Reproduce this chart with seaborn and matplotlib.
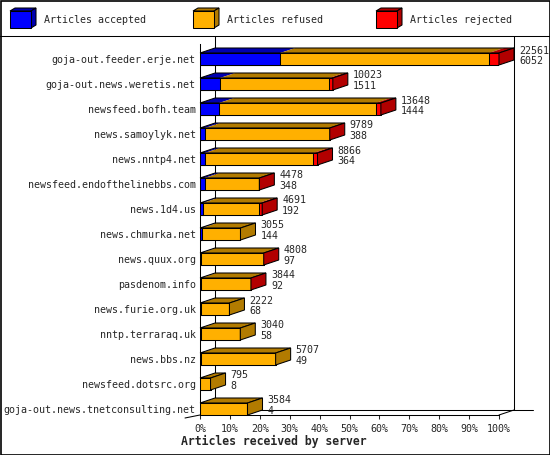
import matplotlib
matplotlib.use("Agg")
import matplotlib.pyplot as plt
from matplotlib.patches import Polygon, Rectangle
from matplotlib.lines import Line2D
import numpy as np
import pandas as pd
import seaborn as sns

sns.set_style("white")
plt.rcParams["font.family"] = ["DejaVu Sans Mono", "DejaVu Sans"]

SERVERS = [
    "goja-out.feeder.erje.net",
    "goja-out.news.weretis.net",
    "newsfeed.bofh.team",
    "news.samoylyk.net",
    "news.nntp4.net",
    "newsfeed.endofthelinebbs.com",
    "news.1d4.us",
    "news.chmurka.net",
    "news.quux.org",
    "pasdenom.info",
    "news.furie.org.uk",
    "nntp.terraraq.uk",
    "news.bbs.nz",
    "newsfeed.dotsrc.org",
    "goja-out.news.tnetconsulting.net",
]
OFFERED = [22561, 10023, 13648, 9789, 8866, 4478, 4691, 3055, 4808, 3844, 2222, 3040, 5707, 795, 3584]
ACCEPTED = [6052, 1511, 1444, 388, 364, 348, 192, 144, 97, 92, 68, 58, 49, 8, 4]
REJECTED = [760, 260, 400, 15, 310, 15, 240, 0, 15, 15, 0, 0, 0, 0, 0]

LABELS = ["Articles accepted", "Articles refused", "Articles rejected"]
FRONT = ["#0000ff", "#ffb000", "#ff0000"]
SHADE = ["#0000b0", "#b27b00", "#b20000"]

W, H = 550, 455
FONT = 7.2


def px(x, y):
    return (x / W, 1 - y / H)


refused = [o - a - r for o, a, r in zip(OFFERED, ACCEPTED, REJECTED)]
top = max(OFFERED)
df = pd.DataFrame(
    {
        "server": SERVERS,
        "acc": np.array(ACCEPTED) / top * 100,
        "acc_ref": (np.array(ACCEPTED) + np.array(refused)) / top * 100,
        "total": np.array(OFFERED) / top * 100,
    }
)

fig = plt.figure(figsize=(W / 100, H / 100), dpi=100)
ax_left, ax_right, ax_top, ax_bot = 200, 499, 44, 415
ax = fig.add_axes([ax_left / W, 1 - ax_bot / H, (ax_right - ax_left) / W, (ax_bot - ax_top) / H])

bar_h = 0.48
for col, c in zip(["total", "acc_ref", "acc"], FRONT[::-1]):
    sns.barplot(
        data=df, x=col, y="server", color=c, saturation=1, width=bar_h,
        edgecolor="black", linewidth=0.75, errorbar=None, ax=ax, zorder=3,
    )

ax.set_xlim(0, 100)
ax.set_ylim(14.24, -0.6)
px_x = 100 / (ax_right - ax_left)
px_y = 14.84 / (ax_bot - ax_top)
dx, dy = 15 * px_x, 5 * px_y
y_floor = 14.24
y_back = y_floor - dy
y_sep = -0.6 - 8.5 * px_y

# back wall and floor
lk = dict(color="black", lw=0.75, clip_on=False, zorder=1)
ax.plot([dx, dx], [y_sep, y_back], **lk)
ax.plot([100 + dx, 100 + dx], [y_sep, y_back], **lk)
ax.plot([dx, 100 + dx + 19 * px_x], [y_back, y_back], **lk)
ax.plot([100, 100 + dx], [y_floor, y_back], **lk)
ax.plot([-dx, 0], [y_floor + 3 * px_y, y_floor], **lk)

# 3D tops and sides
for i in range(len(SERVERS)):
    yt = i - bar_h / 2
    yb = i + bar_h / 2
    edges = [0, df["acc"][i], df["acc_ref"][i], df["total"][i]]
    last = 0
    for k in range(3):
        x0, x1 = edges[k], edges[k + 1]
        if x1 - x0 <= 0:
            continue
        last = k
        ax.add_patch(Polygon([(x0, yt), (x1, yt), (x1 + dx, yt - dy), (x0 + dx, yt - dy)],
                             closed=True, fc=SHADE[k], ec="none", clip_on=False, zorder=2))
    xe = edges[3]
    ax.add_patch(Polygon([(0, yt), (xe, yt), (xe + dx, yt - dy), (dx, yt - dy)],
                         closed=True, fc="none", ec="black", lw=0.75, clip_on=False, zorder=4))
    ax.add_patch(Polygon([(xe, yt), (xe + dx, yt - dy), (xe + dx, yb - dy), (xe, yb)],
                         closed=True, fc=SHADE[last], ec="black", lw=0.75, clip_on=False, zorder=4))
    tx = xe + dx + 5 * px_x
    ax.text(tx, i - 8.5 * px_y, str(OFFERED[i]), fontsize=FONT, va="center", ha="left")
    ax.text(tx, i + 2 * px_y, str(ACCEPTED[i]), fontsize=FONT, va="center", ha="left")

ticks = list(range(0, 101, 10))
ax.set_xticks(ticks)
ax.set_xticklabels([f"{t}%" for t in ticks])
ax.tick_params(axis="x", length=3, width=0.75, pad=3.5, labelsize=FONT, direction="out", bottom=True)
ax.tick_params(axis="y", length=0, pad=3, labelsize=FONT)
ax.set_xlabel("")
ax.set_ylabel("")
for s in ["top", "right"]:
    ax.spines[s].set_visible(False)
for s in ["left", "bottom"]:
    ax.spines[s].set_color("black")
    ax.spines[s].set_linewidth(0.75)
ax.set_facecolor("none")

fig.text(*px(273.5, 441.5), "Articles received by server", fontsize=8.3,
         fontweight="bold", ha="center", va="center")

# legend strip
fig.add_artist(Line2D([0, 1], [px(0, 35.5)[1]] * 2, color="black", lw=0.75, transform=fig.transFigure))
for k, (lab, fc, sc) in enumerate(zip(LABELS, FRONT, SHADE)):
    x0 = 10 + 183 * k
    y0, y1, d, e = 11, 28, 5, 3
    fig.add_artist(Polygon([px(x0, y0), px(x0 + 21, y0), px(x0 + 21 + d, y0 - e), px(x0 + d, y0 - e)],
                           closed=True, fc=sc, ec="black", lw=0.75, transform=fig.transFigure))
    fig.add_artist(Polygon([px(x0 + 21, y0), px(x0 + 21 + d, y0 - e), px(x0 + 21 + d, y1 - e), px(x0 + 21, y1)],
                           closed=True, fc=sc, ec="black", lw=0.75, transform=fig.transFigure))
    fig.add_artist(Rectangle(px(x0, y1), 21 / W, 17 / H, fc=fc, ec="black", lw=0.75,
                             transform=fig.transFigure))
    fig.text(*px(x0 + 34, 20), lab, fontsize=FONT, ha="left", va="center")

fig.add_artist(Rectangle((0.5 / W, 0.5 / H), (W - 1) / W, (H - 1) / H, fill=False,
                         ec="black", lw=1.2, transform=fig.transFigure))

fig.savefig("out.png", dpi=100)
